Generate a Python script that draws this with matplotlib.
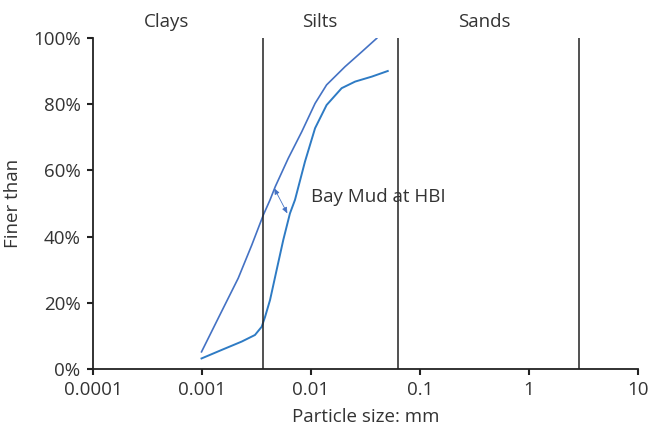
import matplotlib
matplotlib.use("Agg")
import matplotlib.pyplot as plt
import matplotlib.transforms as mtransforms
from matplotlib.ticker import FixedLocator, FuncFormatter

plt.rcParams['font.family'] = ['Open Sans', 'DejaVu Sans']

# Grading curves (particle size in mm, percent finer)
upper_size = [0.00099, 0.00146, 0.00215, 0.00286, 0.00365, 0.00421, 0.0047,
              0.00619, 0.00822, 0.0109, 0.0139, 0.0205, 0.0292, 0.0401]
upper_finer = [5.1, 16.3, 27.4, 37.4, 46.5, 51.1, 55.1,
               63.7, 71.7, 80.3, 85.9, 91.4, 95.9, 100]

lower_size = [0.00099, 0.00152, 0.00231, 0.00306, 0.00353, 0.00379, 0.00421,
              0.00484, 0.00557, 0.00641, 0.00713, 0.00881, 0.0109, 0.0139,
              0.0191, 0.0254, 0.0361, 0.0506]
lower_finer = [3.1, 5.7, 8.2, 10.2, 12.7, 15.7, 20.8,
               29.9, 39.0, 47.0, 51.1, 62.7, 72.8, 79.8,
               84.9, 86.9, 88.4, 90.1]

# Soil class boundaries and their names
boundaries = [0.0036, 0.063, 2.9]
classes = ["Clays", "Silts", "Sands"]
class_pos = [0.00047, 0.0121, 0.386]

x_ticks = [0.0001, 0.001, 0.01, 0.1, 1, 10]
x_labels = ["0.0001", "0.001", "0.01", "0.1", "1", "10"]
y_ticks = [0, 20, 40, 60, 80, 100]

txt = "#333333"

fig = plt.figure(figsize=(6.49, 4.30), dpi=100)
ax = fig.add_axes([93 / 649, 1 - 368.7 / 430, (638 - 93) / 649, (368.7 - 38.3) / 430])

ax.plot(upper_size, upper_finer, color="#4472C4", lw=1.2)
ax.plot(lower_size, lower_finer, color="#2E7BC4", lw=1.4)

for b in boundaries:
    ax.axvline(b, color="#222222", lw=1.1)

ax.set_xscale("log")
ax.set_xlim(0.0001, 10)
ax.set_ylim(0, 100)
ax.xaxis.set_major_locator(FixedLocator(x_ticks))
ax.xaxis.set_minor_locator(FixedLocator([]))
ax.set_xticks(x_ticks)
ax.set_xticklabels(x_labels)
ax.set_yticks(y_ticks)
ax.yaxis.set_major_formatter(FuncFormatter(lambda v, p: f"{v:.0f}%"))

for s in ["top", "right"]:
    ax.spines[s].set_visible(False)
for s in ["left", "bottom"]:
    ax.spines[s].set_color("#222222")
    ax.spines[s].set_linewidth(1.3)
ax.tick_params(direction="out", length=4, width=1.5, color="#222222",
               labelsize=13.5, labelcolor=txt, pad=5)

ax.set_xlabel("Particle size: mm", fontsize=13.5, color=txt, labelpad=6)
ax.set_ylabel("Finer than", fontsize=13.5, color=txt, labelpad=8)

trans = mtransforms.blended_transform_factory(ax.transData, ax.transAxes)
for name, xp in zip(classes, class_pos):
    ax.text(xp, 1.05, name, transform=trans, ha="center", va="center",
            fontsize=13.5, color=txt)

ax.annotate("", xy=(0.0046, 54.6), xytext=(0.00607, 47.0),
            arrowprops=dict(arrowstyle="<|-|>,head_length=0.35,head_width=0.15",
                            color="#4472C4", lw=0.6, shrinkA=0, shrinkB=0))
ax.text(0.0101, 52, "Bay Mud at HBI", ha="left", va="center",
        fontsize=13.5, color=txt)

fig.savefig("out.png", dpi=100)
